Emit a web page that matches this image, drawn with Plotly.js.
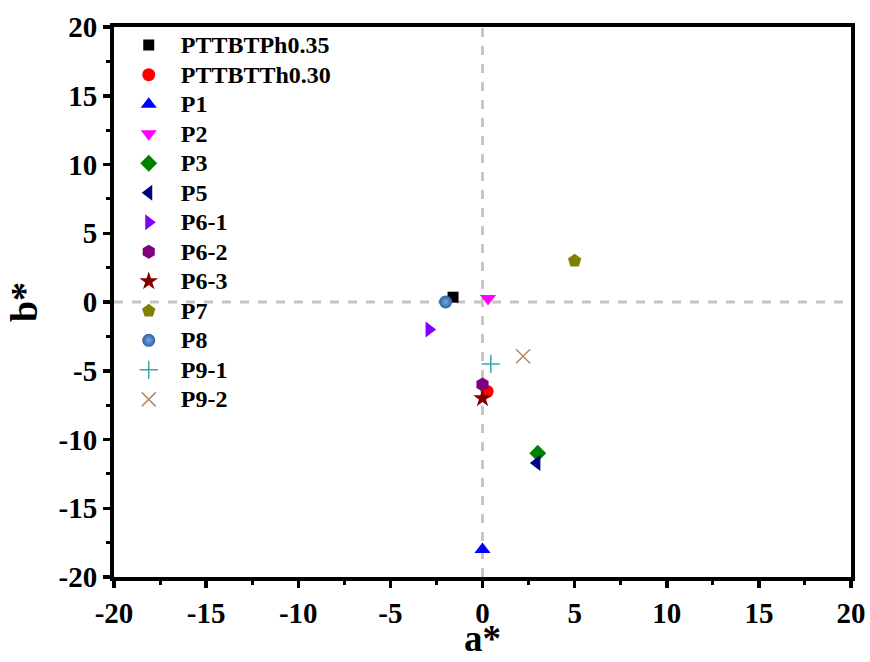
<!DOCTYPE html>
<html><head><meta charset="utf-8">
<script src="https://cdn.plot.ly/plotly-3.0.1.min.js"></script>
<style>body{margin:0;background:#fff}#chart{width:870px;height:662px}</style>
</head><body><div id="chart"></div>
<script>
const names = ["PTTBTPh0.35","PTTBTTh0.30","P1","P2","P3","P5","P6-1","P6-2","P6-3","P7","P8","P9-1","P9-2"];
const aStar = [-1.6, 0.25, 0.0, 0.3, 3.0, 2.95, -2.9, 0.0, 0.0, 5.0, -2.0, 0.45, 2.2];
const bStar = [0.35, -6.5, -18.0, 0.25, -11.0, -11.7, -2.0, -6.0, -7.0, 3.0, 0.0, -4.5, -3.95];
const symbols = ["square","circle","triangle-up","triangle-down","diamond","triangle-left","triangle-right","hexagon","star","pentagon","circle","cross-thin-open","x-thin-open"];
const colors = ["#000000","#ff0000","#0000ff","#ff00ff","#008000","#000080","#8000ff","#800080","#800000","#808000","#2a62a8","#3aa6b0","#b88a5c"];
const sizes = [11,13,14,14,13,14,14,14,14,14,13,13,14];
const xTicks = [-20,-15,-10,-5,0,5,10,15,20];
const yTicks = [-20,-15,-10,-5,0,5,10,15,20];
const xTitle = 'a*';
const yTitle = 'b*';

const traces = names.map((n,i)=>({
  type:'scatter', mode:'markers',
  name:'<span style="font-size:24px">\u00a0\u00a0' + n + '</span>',
  x:[aStar[i]], y:[bStar[i]],
  marker:{symbol:symbols[i], color:colors[i], size:sizes[i],
    line:{width: symbols[i].includes('thin')?1.5:0, color:colors[i]},
    gradient: n==='P8'?{type:'radial',color:'#7aa6dc'}:undefined}
}));

const fam = '"Liberation Serif", "Times New Roman", serif';
const axisCommon = {
  showline:true, linewidth:4, linecolor:'#000', mirror:true,
  ticks:'outside', ticklen:7, tickwidth:3.5, tickcolor:'#000',
  showgrid:false, zeroline:false,
  tickfont:{family:fam, size:29, color:'#000'},
  minor:{ticks:'outside', ticklen:4, tickwidth:3, tickcolor:'#000', dtick:2.5, showgrid:false}
};

const layout = {
  width:870, height:662,
  margin:{l:114, r:19, t:27, b:85},
  paper_bgcolor:'#fff', plot_bgcolor:'#fff',
  showlegend:true,
  legend:{x:0.02, y:1.003, xanchor:'left', yanchor:'top', bgcolor:'rgba(0,0,0,0)', maxheight:1,
    font:{family:fam, size:20.4, color:'#000', weight:'bold'}, tracegroupgap:0, itemwidth:30},
  xaxis:Object.assign({}, axisCommon, {range:[-20,20], tickvals:xTicks, ticktext:xTicks.map(v=>'<b>'+v+'</b>')}),
  yaxis:Object.assign({}, axisCommon, {range:[-20,20], tickvals:yTicks, ticktext:yTicks.map(v=>'<b>'+v+'</b>'),
    title:{text:'<b>'+yTitle+'</b>', font:{family:fam, size:38, color:'#000'}, standoff:10}}),
  annotations:[
    {text:'<b>'+xTitle+'</b>', xref:'paper', yref:'paper', x:0.5, y:-0.152, xanchor:'center', yanchor:'bottom',
     showarrow:false, font:{family:fam, size:37, color:'#000'}}
  ],
  shapes:[
    {type:'line', xref:'paper', yref:'y', x0:0, x1:1, y0:0, y1:0, line:{color:'#c4c4c4', width:2.8, dash:'dash'}, layer:'below'},
    {type:'line', xref:'x', yref:'paper', x0:0, x1:0, y0:0, y1:1, line:{color:'#c4c4c4', width:2.8, dash:'dash'}, layer:'below'}
  ]
};
Plotly.newPlot('chart', traces, layout, {displayModeBar:false, staticPlot:true});
</script></body></html>
